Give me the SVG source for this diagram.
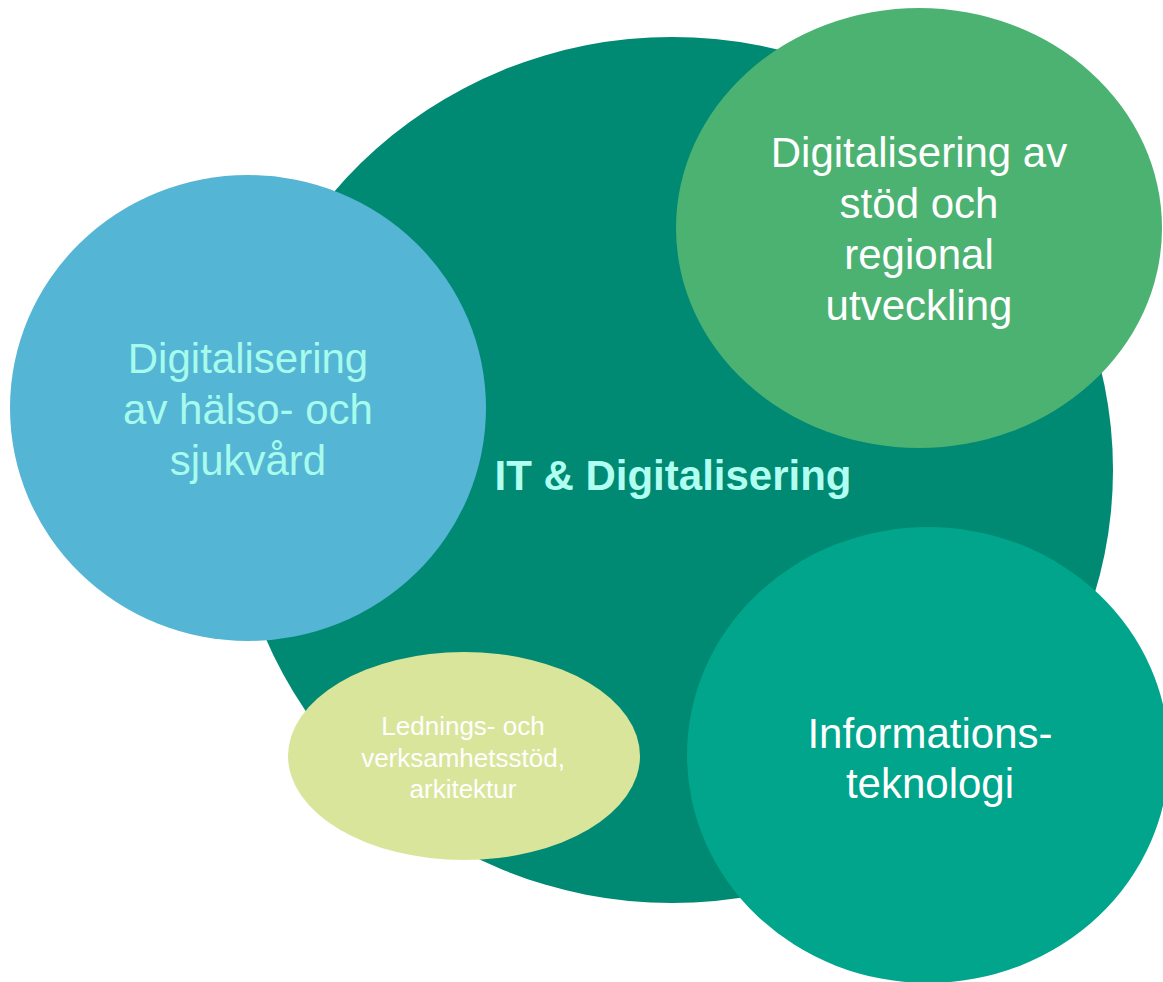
<svg xmlns="http://www.w3.org/2000/svg" width="1163" height="982" viewBox="0 0 1163 982">
<style>
text{font-family:"Liberation Sans",Arial,sans-serif;text-anchor:middle}
.big{font-size:42px}
.small{font-size:26px}
.white{fill:#FFFFFF}
.cyan{fill:#A6FBEC}
</style>
<rect width="1163" height="982" fill="#FFFFFF"/>
<g id="it-digitalisering">
<ellipse cx="672" cy="470" rx="441" ry="433" fill="#008973"/>
<text x="673" y="490" class="big" font-weight="bold" fill="#B0FFF0">IT &amp; Digitalisering</text>
</g>
<g id="halso-sjukvard">
<ellipse cx="248" cy="408" rx="238" ry="233" fill="#55B5D4"/>
<text class="big cyan"><tspan x="248" y="373">Digitalisering</tspan><tspan x="248" y="424">av hälso- och</tspan><tspan x="248" y="475">sjukvård</tspan></text>
</g>
<g id="stod-regional">
<ellipse cx="919" cy="228" rx="243" ry="220" fill="#4CB272"/>
<text class="big white"><tspan x="919" y="167">Digitalisering av</tspan><tspan x="919" y="218">stöd och</tspan><tspan x="919" y="269">regional</tspan><tspan x="919" y="320">utveckling</tspan></text>
</g>
<g id="informationsteknologi">
<ellipse cx="928" cy="755" rx="241" ry="228" fill="#00A58B"/>
<text class="big white"><tspan x="930" y="748">Informations-</tspan><tspan x="930" y="798">teknologi</tspan></text>
</g>
<g id="ledningsstod">
<ellipse cx="464" cy="756" rx="176" ry="104" fill="#D9E59B"/>
<text class="small white"><tspan x="463" y="735">Lednings- och</tspan><tspan x="463" y="767">verksamhetsstöd,</tspan><tspan x="463" y="798">arkitektur</tspan></text>
</g>
<g id="connectors"/>
</svg>
